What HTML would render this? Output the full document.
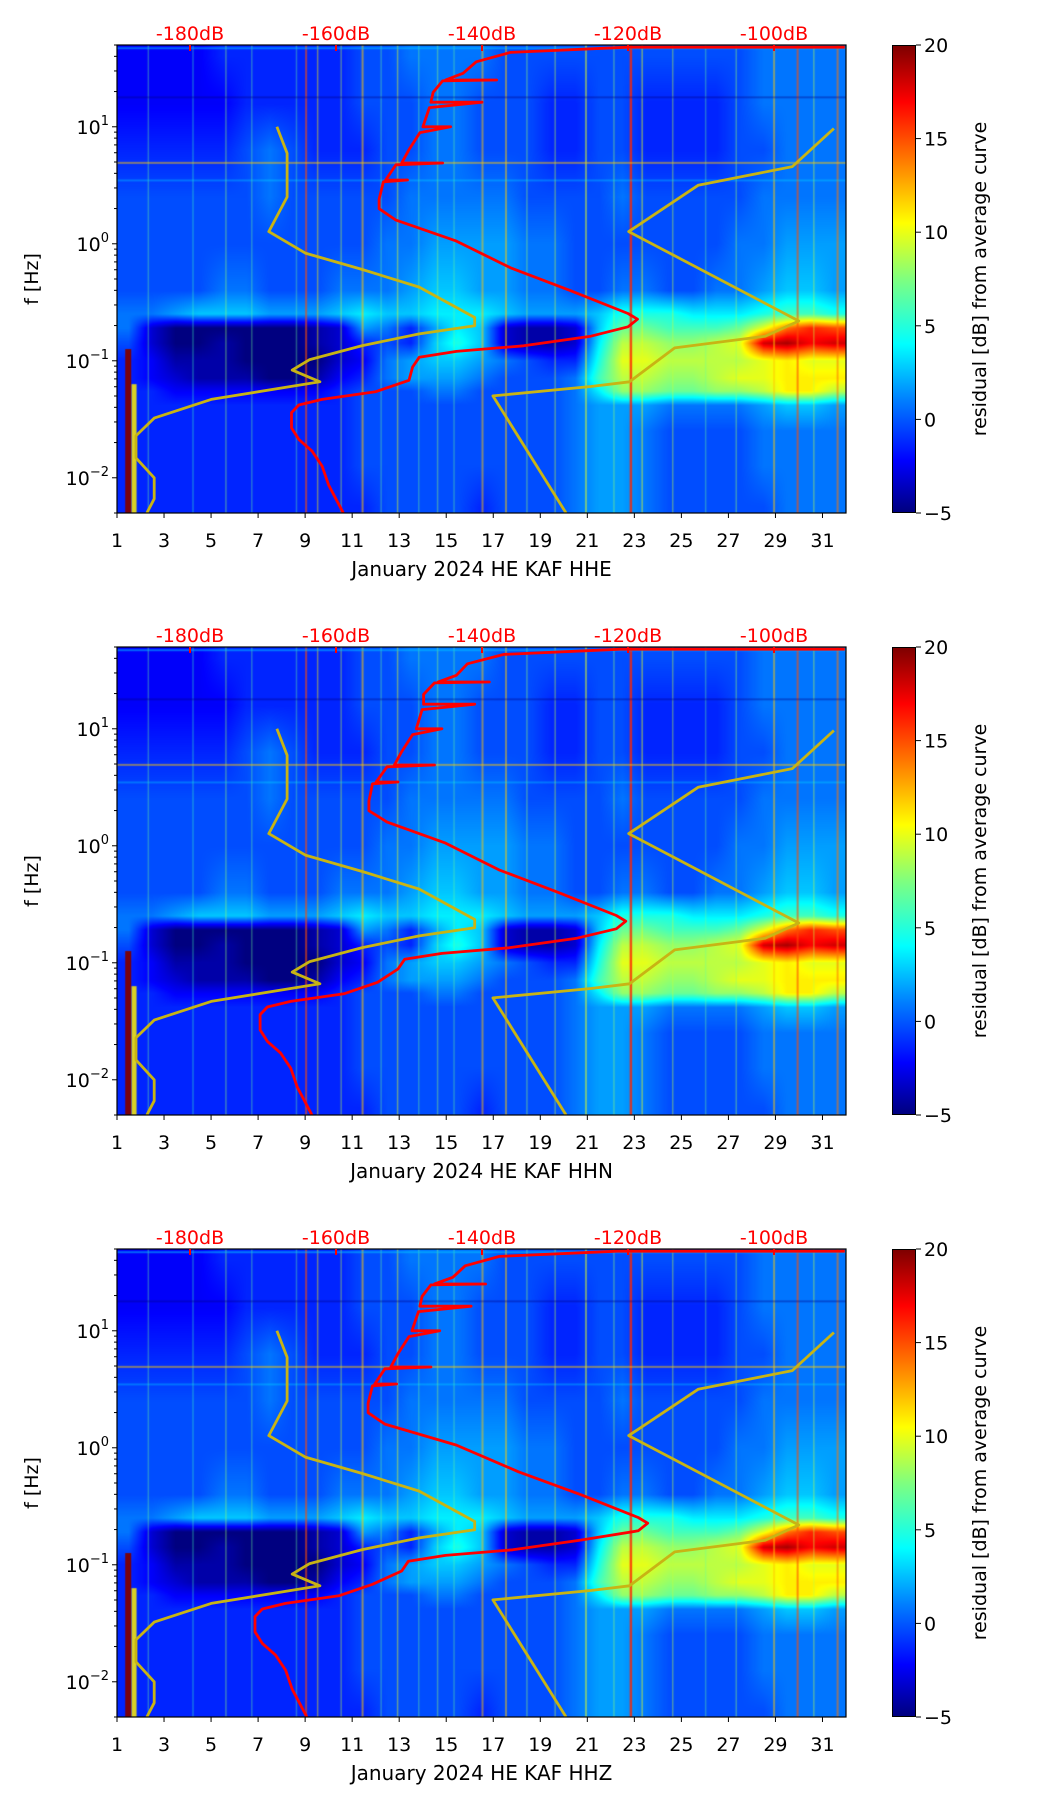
<!DOCTYPE html>
<html><head><meta charset="utf-8">
<style>
html,body{margin:0;padding:0;background:#fff;}
body{width:1052px;height:1806px;position:relative;overflow:hidden;font-family:"DejaVu Sans","Liberation Sans",sans-serif;}
.panel{position:absolute;left:0;width:1052px;height:602px;}
.panel canvas{position:absolute;left:117px;top:45px;width:729px;height:468px;}
.panel svg{position:absolute;left:0;top:0;}
.cbar{position:absolute;left:892px;top:45px;width:24px;height:468px;box-sizing:border-box;border:1px solid #000;
background:linear-gradient(to top,#00007f,#0000ff 11%,#007fff 24%,#00ffff 36%,#7fff7f 50%,#ffff00 62%,#ff7f00 75%,#ff0000 88%,#7f0000);}
</style></head>
<body>
<script>
// ---- data ----
const channels = ['HHE','HHN','HHZ'];
const dayTicks = [1,3,5,7,9,11,13,15,17,19,21,23,25,27,29,31];
const dbTicks = [-180,-160,-140,-120,-100];
const cbTicks = [20,15,10,5,0,-5];
const decadeTicks = [1,0,-1,-2];
const gridLogF = [1.6,1.2,0.8,0.4,0.0,-0.4,-0.6,-0.72,-0.85,-1.0,-1.15,-1.26,-1.38,-1.6,-1.9,-2.25];
const resid = [
[-2,-2,-2,-2,-1,-1,-1,-1,-1,-1,0,0,1,1,1,1,0,0,0,0,0,0,0,0,0,0,0,1,1,1,1],
[-2,-2,-2,-2,-2,-1,-1,-1,-1,-1,0,0,0,1,1,0,0,0,-1,-1,0,0,-1,-1,-1,-1,0,1,1,1,1],
[-1,-1,-1,-1,-1,0,1,0,-1,-1,-1,0,0,1,1,0,0,0,-1,-1,0,0,-1,-1,-1,-1,0,0,1,1,1],
[0,0,0,0,0,0,1,0,0,0,0,0,1,1,1,1,1,0,0,0,0,1,0,0,0,0,0,1,1,1,1],
[0,0,0,0,0,0,0,0,0,0,0,1,1,2,2,2,2,1,1,0,0,0,0,0,0,0,1,1,2,2,2],
[0,0,0,0,1,1,0,0,0,1,1,1,2,3,3,2,2,1,1,0,0,1,1,0,0,1,1,2,3,3,2],
[1,1,2,3,3,3,2,2,2,3,4,3,3,4,4,4,3,2,2,2,3,5,5,5,4,4,4,5,6,6,5],
[1,-3,-5,-5,-5,-5,-5,-5,-4,-3,2,1,-1,2,4,3,-3,-4,-4,-3,3,7,7,6,6,6,7,10,14,16,15],
[0,-3,-5,-5,-4,-5,-5,-5,-4,-3,-1,0,-1,3,5,3,-3,-4,-4,-3,4,9,9,8,8,9,10,18,19,17,18],
[-1,-2,-4,-4,-4,-5,-5,-5,-5,-3,-2,1,2,3,3,2,1,0,-1,-1,5,10,10,9,9,9,9,10,11,10,10],
[-1,-2,-3,-4,-4,-4,-5,-5,-4,-2,-1,1,2,2,2,1,0,0,0,1,6,9,9,8,8,9,10,10,11,11,11],
[-1,-1,-2,-2,-2,-2,-2,-2,-2,-1,0,0,0,1,1,0,0,0,0,1,4,8,8,7,7,8,8,9,11,11,9],
[-1,-1,-1,-1,-1,-1,-1,-1,-1,-1,0,0,0,0,0,0,0,0,0,1,2,2,2,1,1,1,1,2,3,3,2],
[-1,-1,-1,-1,-1,-1,-1,-1,-1,-1,0,0,0,0,0,0,0,0,0,1,2,2,1,0,0,0,0,1,1,1,1],
[-1,-1,-1,-1,-1,-1,-1,-1,-1,-1,0,0,0,0,0,0,0,0,0,1,2,2,1,0,0,0,0,1,1,1,1],
[-1,-1,-1,-1,-1,-1,-1,-1,-1,-1,-1,0,0,0,0,-1,0,0,0,1,2,2,1,0,0,0,0,0,1,1,1]];
const streakDay = [1.35,1.62,2.3,4.2,5.6,6.7,8.6,9.0,9.5,10.5,11.4,12.2,12.9,13.8,14.6,15.3,16.5,17.5,18.4,19.6,20.9,22.1,22.8,23.3,24.6,26.0,27.3,28.9,29.9,30.6,31.6];
const streakVal = [20,11,7,6,8,7,7,15,11,9,12,7,10,7,8,7,12,12,8,9,10,8,16,10,9,7,8,12,15,9,14];
const streakTop = [-0.9,-1.2,1.7,1.7,1.7,1.7,1.7,1.7,1.7,1.7,1.7,1.7,1.7,1.7,1.7,1.7,1.7,1.7,1.7,1.7,1.7,1.7,1.7,1.7,1.7,1.7,1.7,1.7,1.7,1.7,1.7];
const streakAlpha = [0.95,0.85,0.35,0.35,0.4,0.35,0.35,0.6,0.45,0.4,0.55,0.35,0.45,0.35,0.4,0.35,0.5,0.5,0.4,0.4,0.5,0.4,0.8,0.5,0.4,0.35,0.4,0.5,0.6,0.4,0.55];
const streakW = [6,5,1.5,1.5,1.5,1.5,1.5,2,1.5,1.5,2,1.5,1.5,1.5,1.5,1.5,2,2,1.5,1.5,2,1.5,2.5,1.5,1.5,1.5,1.5,2,2,1.5,2];
const hLineLogF = [1.68,1.26,0.70,0.55];
const hLineVal = [3,-5,12,4];
const hLineAlpha = [0.5,0.35,0.5,0.3];
const nlnmLogF = [1.0,0.773,0.40,0.104,-0.08,-0.22,-0.37,-0.63,-0.70,-0.77,-0.87,-0.99,-1.08,-1.18,-1.33,-1.49,-1.64,-1.83,-2.0,-2.18,-2.30];
const nlnmDb = [-168.1,-166.7,-166.7,-169.2,-164.2,-156.4,-148.6,-141.0,-141.0,-148.6,-156.4,-163.6,-166.0,-162.2,-177.1,-184.9,-187.4,-187.4,-184.9,-184.9,-185.9];
const nhnmLogF = [0.985,0.66,0.50,0.104,-0.66,-0.79,-0.89,-1.18,-1.22,-1.30,-2.30];
const nhnmDb = [-91.8,-97.5,-110.4,-119.9,-96.6,-101.2,-113.6,-119.8,-125.1,-138.5,-128.5];
const redLogF = [1.68,1.68,1.636,1.555,1.457,1.40,1.40,1.392,1.294,1.21,1.21,1.164,1.0,1.0,0.95,0.805,0.69,0.69,0.675,0.544,0.545,0.53,0.381,0.30,0.202,0.023,-0.205,-0.40,-0.596,-0.645,-0.71,-0.79,-0.872,-0.92,-0.97,-1.053,-1.167,-1.265,-1.33,-1.378,-1.443,-1.574,-1.672,-1.77,-1.90,-2.063,-2.30];
const redDbHHE = [-90.3,-120,-136.1,-140.8,-142.6,-145,-138,-145.4,-146.7,-147,-140,-147.2,-148.1,-144.3,-148.5,-150,-151,-145.4,-151.8,-153.2,-150.2,-153.5,-154.1,-154.1,-151.8,-143.5,-136.1,-127.9,-120,-118.7,-120,-125.1,-134.3,-143.5,-148.6,-149.5,-150,-154.6,-161.9,-165.1,-166.1,-166.1,-165.1,-163.3,-161.9,-161,-159];
const redDbHHN = [-90.3,-121,-137,-142,-143.5,-146,-139,-146.5,-148,-148,-141,-148.2,-149,-145.5,-149.5,-151,-152,-146.5,-153,-154.5,-151.5,-155,-155.5,-155.5,-153,-145,-137.7,-129.5,-121.6,-120.3,-121.6,-127,-136.3,-145.5,-150.6,-151.5,-154.3,-158.9,-166.2,-169.4,-170.4,-170.4,-169.4,-167.6,-166.2,-165.3,-163.3];
const redDbHHZ = [-90.3,-121.5,-137.6,-142.3,-144,-146.5,-139.5,-147,-148.2,-148.5,-141.5,-148.7,-149.6,-145.8,-150,-151.5,-152.5,-147,-153.3,-154.7,-151.7,-155,-155.6,-155.6,-153.3,-143.5,-135,-126.5,-118.6,-117.3,-118.6,-126.6,-135.8,-145,-150.1,-151,-155,-159.6,-166.9,-170.1,-171.1,-171.1,-170.1,-168.3,-166.9,-166,-164];
const redSets = [redDbHHE, redDbHHN, redDbHHZ];

// ---- geometry / scales ----
const PL=117, PT=45, PW=729, PH=468, PITCH=602, FS=19;
const LOGTOP=Math.log10(50), LOGBOT=Math.log10(0.005);
const xDay = d => PL + (d-1)/31*PW;
const yLog = l => PT + (LOGTOP-l)/(LOGTOP-LOGBOT)*PH;
const xDb = db => 190 + (db+180)*7.3;
const clamp = v => Math.max(0,Math.min(1,v));
function jet(v){const t=clamp((v+5)/25);return [clamp(1.5-Math.abs(4*t-3)),clamp(1.5-Math.abs(4*t-2)),clamp(1.5-Math.abs(4*t-1))].map(c=>Math.round(c*255));}
function cellVal(day,l){
  let r=0; while(r<gridLogF.length-2 && l<gridLogF[r+1]) r++;
  let fr=(gridLogF[r]-l)/(gridLogF[r]-gridLogF[r+1]); fr=clamp(fr);
  let c=day-1.5; let c0=Math.max(0,Math.min(30,Math.floor(c))); let c1=Math.min(30,c0+1); let fc=clamp(c-c0);
  const a=resid[r][c0]*(1-fc)+resid[r][c1]*fc, b=resid[r+1][c0]*(1-fc)+resid[r+1][c1]*fc;
  return a*(1-fr)+b*fr;
}
const NS='http://www.w3.org/2000/svg';
function S(tag,attrs,parent){const e=document.createElementNS(NS,tag);for(const k in attrs)e.setAttribute(k,attrs[k]);parent.appendChild(e);return e;}

channels.forEach((ch,pi)=>{
  const div=document.createElement('div');
  div.className='panel'; div.style.top=(pi*PITCH)+'px';
  
  
  document.body.appendChild(div);
  const cv=document.createElement('canvas'); cv.width=PW; cv.height=PH;
  
  
  div.appendChild(cv);
  const ctx=cv.getContext('2d'); const img=ctx.createImageData(PW,PH);
  for(let y=0;y<PH;y++){const l=LOGTOP-(y+0.5)/PH*(LOGTOP-LOGBOT);
    for(let x=0;x<PW;x++){const d=1+(x+0.5)/PW*31;const c=jet(cellVal(d,l));const i=(y*PW+x)*4;
      img.data[i]=c[0];img.data[i+1]=c[1];img.data[i+2]=c[2];img.data[i+3]=255;}}
  ctx.putImageData(img,0,0);
  streakDay.forEach((d,i)=>{const c=jet(streakVal[i]);ctx.fillStyle='rgba('+c.join(',')+','+streakAlpha[i]+')';
    const y0=yLog(Math.min(streakTop[i],LOGTOP))-PT; ctx.fillRect(xDay(d)-PL,y0,streakW[i],PH-y0);});
  hLineLogF.forEach((l,i)=>{const c=jet(hLineVal[i]);ctx.fillStyle='rgba('+c.join(',')+','+hLineAlpha[i]+')';
    ctx.fillRect(0,yLog(l)-PT,PW,2);});

  const cb=document.createElement('div'); cb.className='cbar';
  
  
  div.appendChild(cb);

  const svg=S('svg',{width:1052,height:602,viewBox:'0 0 1052 602'},div);
  
  
  const cid='clip'+pi;
  const defs=S('defs',{},svg); const cp=S('clipPath',{id:cid},defs); S('rect',{x:PL,y:PT,width:PW,height:PH},cp);
  const g=S('g',{'clip-path':'url(#'+cid+')'},svg);
  const path=(lf,db)=>lf.map((l,i)=>(i?'L':'M')+xDb(db[i]).toFixed(1)+' '+yLog(l).toFixed(1)).join(' ');
  const nl=S('path',{d:path(nlnmLogF,nlnmDb),fill:'none',stroke:'#c8b414',"stroke-width":2.8,"stroke-linejoin":'round'},g);
  
  
  const nh=S('path',{d:path(nhnmLogF,nhnmDb),fill:'none',stroke:'#c8b414',"stroke-width":2.8,"stroke-linejoin":'round'},g);
  
  
  const rc=S('path',{d:path(redLogF,redSets[pi]),fill:'none',stroke:'#ff0000',"stroke-width":2.8,"stroke-linejoin":'round'},g);
  
  
  const fr=S('rect',{x:PL,y:PT,width:PW,height:PH,fill:'none',stroke:'#000','stroke-width':1.2},svg);
  
  
  // x ticks
  dayTicks.forEach(d=>{const x=xDay(d);S('line',{x1:x,x2:x,y1:PT+PH,y2:PT+PH+5,stroke:'#000'},svg);
    const t=S('text',{x:x,y:PT+PH+34,'font-size':FS,'text-anchor':'middle'},svg);t.textContent=d;
    
    });
  const xt=S('text',{x:PL+PW/2,y:PT+PH+63,'font-size':20,'text-anchor':'middle'},svg);
  xt.textContent='January 2024 HE KAF  '+ch;
  
  
  // y ticks
  decadeTicks.forEach(k=>{const y=yLog(k);S('line',{x1:PL-5,x2:PL,y1:y,y2:y,stroke:'#000'},svg);
    const t=S('text',{x:PL-8,y:y+7,'font-size':FS,'text-anchor':'end'},svg);
    
    
    const a=S('tspan',{},t);a.textContent='10';const b=S('tspan',{dy:-9,'font-size':13},t);b.textContent=k<0?'\u2212'+(-k):String(k);
    for(let m=2;m<10;m++){const ym=yLog(k+Math.log10(m));if(ym>=PT&&ym<=PT+PH)S('line',{x1:PL-3,x2:PL,y1:ym,y2:ym,stroke:'#000'},svg);}
    if(k===-2){const ym=yLog(-3+Math.log10(5));S('line',{x1:PL-3,x2:PL,y1:ym,y2:ym,stroke:'#000'},svg);}
  });
  const yt=S('text',{x:0,y:0,'font-size':FS,'text-anchor':'middle',transform:'translate(38,'+(PT+PH/2)+') rotate(-90)'},svg);
  yt.textContent='f [Hz]';
  
  
  // top dB axis
  dbTicks.forEach(db=>{const x=xDb(db);S('line',{x1:x,x2:x,y1:PT,y2:PT+6,stroke:'#ff0000','stroke-width':2},svg);
    const t=S('text',{x:x,y:PT-5,'font-size':FS,'text-anchor':'middle',fill:'#ff0000'},svg);t.textContent=db+'dB';
    
    });
  // colorbar ticks
  cbTicks.forEach(v=>{const y=PT+PH-(v+5)/25*PH;S('line',{x1:916,x2:921,y1:y,y2:y,stroke:'#000'},svg);
    const t=S('text',{x:924,y:y+7,'font-size':FS},svg);t.textContent=v<0?'\u2212'+(-v):String(v);
    
    });
  const ct=S('text',{x:0,y:0,'font-size':FS,'text-anchor':'middle',transform:'translate(986,'+(PT+PH/2)+') rotate(-90)'},svg);
  ct.textContent='residual [dB] from average curve';
  
  
});
</script>
</body></html>
